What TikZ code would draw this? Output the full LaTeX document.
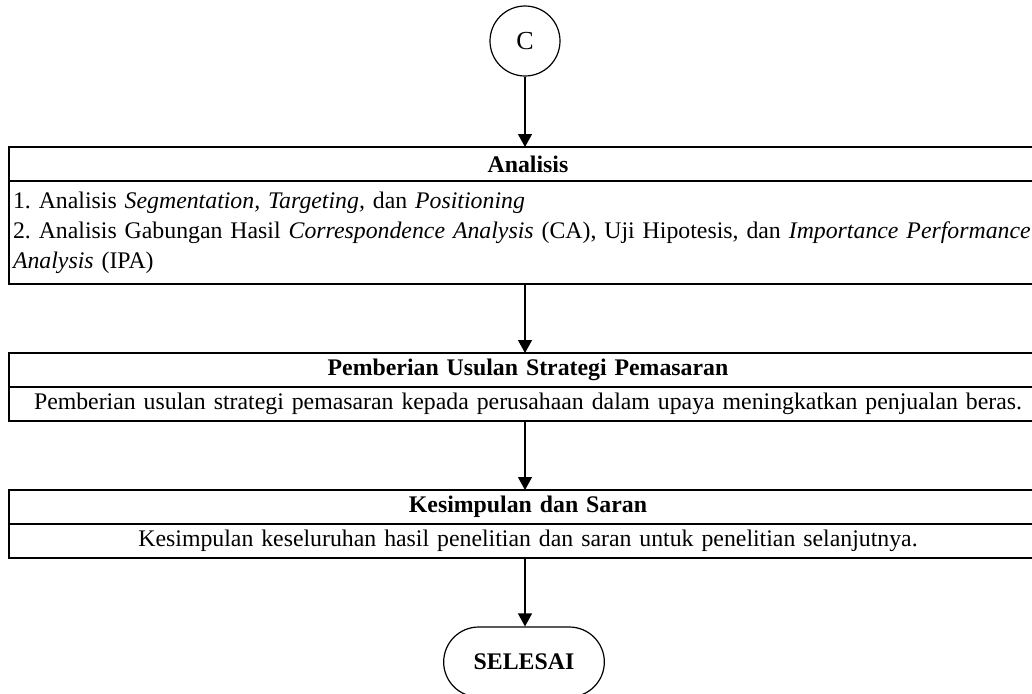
\documentclass[tikz,border=0pt]{standalone}
\usepackage{fontspec}
\setmainfont{Liberation Serif}
\usetikzlibrary{positioning,arrows.meta,shapes.misc}
\frenchspacing
\begin{document}
\begin{tikzpicture}[
  font=\fontsize{11.9}{15}\selectfont, line width=0.6pt,
  hdr/.style={draw, rectangle, outer sep=0pt, inner xsep=2pt, inner ysep=0pt,
    text width=515pt, align=center, minimum height=17pt, font=\fontsize{11.9}{15}\selectfont\bfseries},
  body/.style={draw, rectangle, outer sep=0pt, inner xsep=2pt, inner ysep=0pt,
    text width=515pt, minimum height=17pt},
  flow/.style={-{Triangle[width=7pt,length=6.5pt]}}
]
  \useasboundingbox (0,0) rectangle (516pt,-346.5pt);

  % Connector C
  \node[draw, circle, minimum size=35pt, inner sep=0pt, font=\fontsize{13}{15}\selectfont] (c) at (262.5pt,-20.5pt) {C};

  % Analisis
  \node[hdr] (anaH) at (264pt,-82pt) {Analisis};
  \node[body, align=left, minimum height=51.5pt, below=0pt of anaH] (anaB)
    {\mbox{1. Analisis \textit{Segmentation, Targeting,} dan \textit{Positioning}}\\
     \mbox{2. Analisis Gabungan Hasil \textit{Correspondence Analysis} (CA), Uji Hipotesis, dan \textit{Importance Performance}}\\
     \mbox{\textit{Analysis} (IPA)}};

  % Usulan strategi
  \node[hdr, below=34.5pt of anaB] (usuH) {Pemberian Usulan Strategi Pemasaran};
  \node[body, align=center, below=0pt of usuH] (usuB)
    {\mbox{Pemberian usulan strategi pemasaran kepada perusahaan dalam upaya meningkatkan penjualan beras.}};

  % Kesimpulan
  \node[hdr, below=34.5pt of usuB] (simH) {Kesimpulan dan Saran};
  \node[body, align=center, below=0pt of simH] (simB)
    {\mbox{Kesimpulan keseluruhan hasil penelitian dan saran untuk penelitian selanjutnya.}};

  % Selesai
  \node[draw, rounded rectangle, minimum width=87pt, minimum height=35pt,
    font=\fontsize{11.9}{15}\selectfont\bfseries] (selesai) at (262pt,-331pt) {SELESAI};

  \draw[flow] (c) -- (c |- anaH.north);
  \draw[flow] (anaB.south -| c) -- (usuH.north -| c);
  \draw[flow] (usuB.south -| c) -- (simH.north -| c);
  \draw[flow] (simB.south -| c) -- (selesai.north -| c);
\end{tikzpicture}
\end{document}
